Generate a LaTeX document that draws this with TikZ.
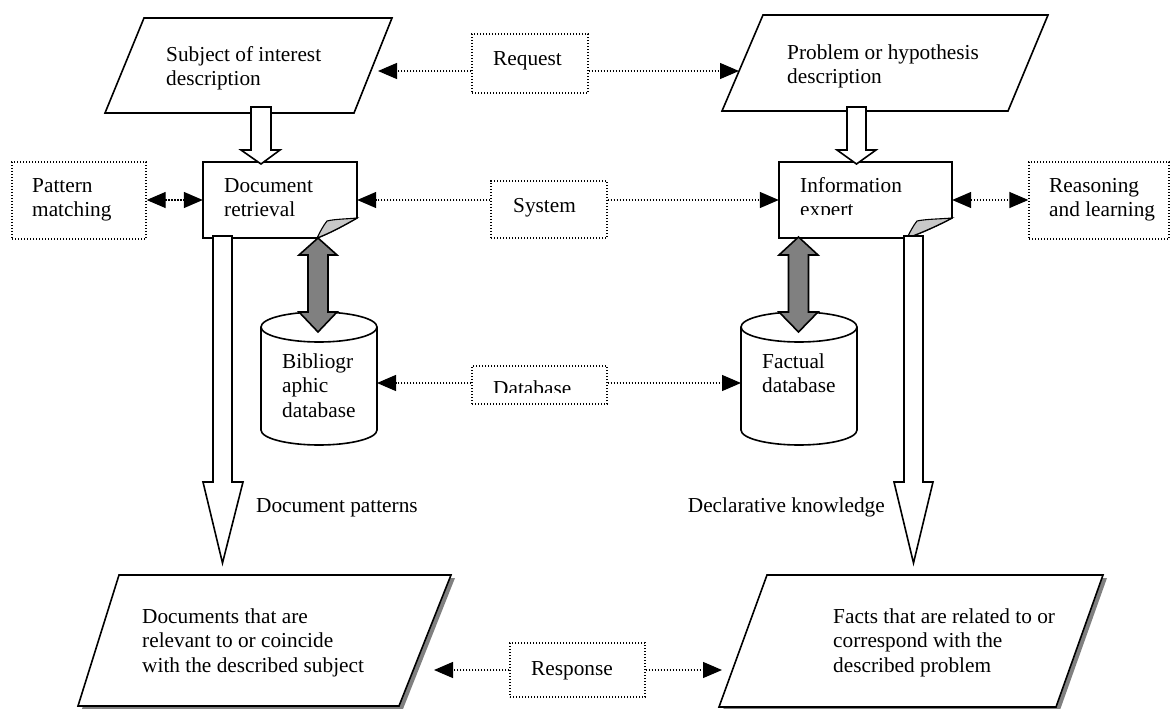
\documentclass[tikz,border=0pt]{standalone}
\usepackage{fontspec}
\setmainfont{Liberation Serif}
\usetikzlibrary{arrows.meta}

\definecolor{midgray}{HTML}{808080}
\definecolor{curlgray}{HTML}{C8C8C8}

\begin{document}
\begin{tikzpicture}[x=1pt,y=-1pt,
  % multi-line labels are anchored at the baseline of their last line
  txt/.style={font=\fontsize{21.3}{24.5}\selectfont, inner sep=0pt, align=left, anchor=base west},
  outline/.style={draw=black, line width=1.6pt, line join=miter, fill=white},
  dotbox/.style={draw=black, line width=1.3pt, dash pattern=on 1.3pt off 1.7pt, inner sep=0pt},
  anchorbox/.style={draw=none, inner sep=0pt},
  tipA/.tip={Triangle[length=19pt,width=16pt]},
  lnk/.style={line width=1.3pt, dash pattern=on 1.3pt off 1.7pt, -tipA},
  lnkboth/.style={line width=1.3pt, dash pattern=on 1.3pt off 1.7pt, tipA-tipA},
  blockarrow/.style={draw=black, line width=1.6pt, line join=miter, fill=white},
  grayarrow/.style={draw=black, line width=1.6pt, line join=miter, fill=midgray},
  curl/.style={draw=black, line width=1.1pt, fill=curlgray}
]
\useasboundingbox (0,0) rectangle (1171,709);

% ---------- top parallelograms ----------
\draw[outline] (144,18) -- (392,18) -- (354,113) -- (105,113) -- cycle;
\node[anchorbox, minimum width=287pt, minimum height=95pt] (subj) at (248.5,65.5) {};
\node[txt] (subjt) at (166,85.5) {Subject of interest\\description};

\draw[outline] (763,15) -- (1048,15) -- (1008,111) -- (722,111) -- cycle;
\node[anchorbox, minimum width=326pt, minimum height=96pt] (prob) at (885,63) {};
\node[txt] (probt) at (787,83.5) {Problem or hypothesis\\description};

% ---------- request ----------
\node[dotbox, minimum width=116pt, minimum height=59pt] (req) at (530,63.5) {};
\node[txt] (reqt) at (493,66) {Request};
\coordinate (subjR) at (378,71);
\coordinate (probL) at (739,71);
\draw[lnk] (req.west |- subjR) -- (subjR);
\draw[lnk] (req.east |- probL) -- (probL);

% ---------- documents with folded corner ----------
\draw[outline] (203,162) -- (357,162) -- (357,218)
  .. controls (343,226) and (330,233) .. (317,238) -- (203,238) -- cycle;
\draw[curl] (357,218) .. controls (347,219) and (335,219) .. (327,221)
  .. controls (323,226) and (320,232) .. (317,238)
  .. controls (330,233) and (343,226) .. (357,218) -- cycle;
\node[anchorbox, minimum width=154pt, minimum height=76pt] (dr) at (280,200) {};
\node[txt] (drt) at (224,216.5) {Document\\retrieval};

\draw[outline] (779,162) -- (952,162) -- (952,218)
  .. controls (937,226) and (921,233) .. (907,238) -- (779,238) -- cycle;
\draw[curl] (952,218) .. controls (941,219) and (926,219) .. (917,221)
  .. controls (913,226) and (910,232) .. (907,238)
  .. controls (921,233) and (937,226) .. (952,218) -- cycle;
\node[anchorbox, minimum width=173pt, minimum height=76pt] (ie) at (865.5,200) {};
\begin{scope}
  \clip (779,165) rectangle (952,214.5);
  \node[txt] (iet) at (800,216.5) {Information\\expert};
\end{scope}

% ---------- side boxes ----------
\node[dotbox, minimum width=134pt, minimum height=77pt] (pm) at (79,200.5) {};
\node[txt] (pmt) at (32,216.5) {Pattern\\matching};
\node[dotbox, minimum width=140pt, minimum height=77pt] (rl) at (1099,200.5) {};
\node[txt] (rlt) at (1049,216.5) {Reasoning\\and learning};
\draw[lnkboth] (pm.east |- dr.west) -- (dr.west);
\draw[lnkboth] (ie.east) -- (rl.west |- ie.east);

% ---------- system ----------
\node[dotbox, minimum width=116pt, minimum height=57pt] (sys) at (549,209.5) {};
\node[txt] (syst) at (513,212) {System};
\draw[lnk] (sys.west |- dr.east) -- (dr.east);
\draw[lnk] (sys.east |- ie.west) -- (ie.west);

% ---------- small block arrows into the documents ----------
\draw[blockarrow] (251,107) -- (271,107) -- (271,150) -- (280,150) -- (261,164)
  -- (241,150) -- (251,150) -- cycle;
\draw[blockarrow] (847,107) -- (866,107) -- (866,150) -- (876,150) -- (856.5,164)
  -- (837,150) -- (847,150) -- cycle;

% ---------- databases ----------
\draw[outline] (261,327) -- (261,430) arc[start angle=180, end angle=0, x radius=58, y radius=15] -- (377,327);
\draw[outline] (319,327) ellipse[x radius=58, y radius=15];
\node[anchorbox, minimum width=116pt, minimum height=133pt] (bib) at (319,378.5) {};
\node[txt] (bibt) at (282,417) {Bibliogr\\aphic\\database};

\draw[outline] (741,327) -- (741,430) arc[start angle=180, end angle=0, x radius=58, y radius=15] -- (857,327);
\draw[outline] (799,327) ellipse[x radius=58, y radius=15];
\node[anchorbox, minimum width=116pt, minimum height=133pt] (fdb) at (799,378.5) {};
\node[txt] (fdbt) at (762,392.5) {Factual\\database};

% ---------- grey two-way arrows ----------
\draw[grayarrow] (318,238) -- (337,255) -- (328,255) -- (328,312) -- (337,312) -- (318,332)
  -- (299,312) -- (308,312) -- (308,255) -- (299,255) -- cycle;
\draw[grayarrow] (798.5,237) -- (818,255) -- (808.5,255) -- (808.5,312) -- (818,312) -- (798.5,332)
  -- (779,312) -- (788.5,312) -- (788.5,255) -- (779,255) -- cycle;

% ---------- database box ----------
\node[dotbox, minimum width=135pt, minimum height=38pt] (db) at (539.5,385) {};
\begin{scope}
  \clip (472,360) rectangle (607,392.5);
  \node[txt] (dbt) at (493,395) {Database};
\end{scope}
\coordinate (bibR) at (377,383);
\coordinate (fdbL) at (741,383);
\draw[lnk] (db.west |- bibR) -- (bibR);
\draw[lnk] (db.east |- fdbL) -- (fdbL);

% ---------- long block arrows ----------
\draw[blockarrow] (213,236) -- (232,236) -- (232,482) -- (243,482) -- (222.5,563)
  -- (203,482) -- (213,482) -- cycle;
\draw[blockarrow] (904,236) -- (923,236) -- (923,482) -- (933,482) -- (913.5,563)
  -- (894,482) -- (904,482) -- cycle;
\node[txt] (dpat) at (256,512) {Document patterns};
\node[txt, anchor=base east] (dknow) at (885,512) {Declarative knowledge};

% ---------- result parallelograms with shadow ----------
\fill[midgray] (123,578) -- (455,578) -- (403,709) -- (82,709) -- cycle;
\draw[outline] (119,575) -- (451,575) -- (399,706) -- (78,706) -- cycle;
\node[anchorbox, minimum width=373pt, minimum height=131pt] (docs) at (264.5,640.5) {};
\node[txt] (docst) at (142,672) {Documents that are\\relevant to or coincide\\with the described subject};

\fill[midgray] (771,578) -- (1107,578) -- (1060,710) -- (723,710) -- cycle;
\draw[outline] (767,575) -- (1103,575) -- (1056,707) -- (719,707) -- cycle;
\node[anchorbox, minimum width=384pt, minimum height=132pt] (facts) at (911,641) {};
\node[txt] (factst) at (833,672) {Facts that are related to or\\correspond with the\\described problem};

% ---------- response ----------
\node[dotbox, minimum width=135pt, minimum height=54pt] (resp) at (577.5,670) {};
\node[txt] (respt) at (531,675) {Response};
\coordinate (docsR) at (434,670);
\coordinate (factsL) at (722,670);
\draw[lnk] (resp.west |- docsR) -- (docsR);
\draw[lnk] (resp.east |- factsL) -- (factsL);
\end{tikzpicture}
\end{document}
